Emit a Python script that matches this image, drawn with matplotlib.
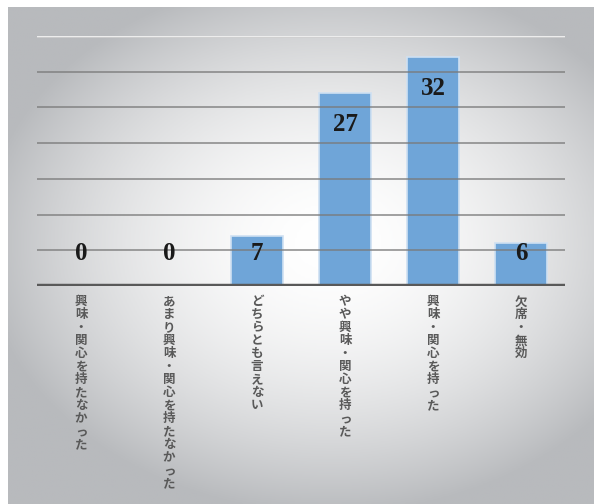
import numpy as np
import matplotlib.pyplot as plt
import matplotlib.colors as mcolors

plt.rcParams['font.family'] = ['Noto Sans CJK JP', 'DejaVu Sans']

# 回答の集計
categories = ['興味・関心を持たなかった', 'あまり興味・関心を持たなかった', 'どちらとも言えない',
              'やや興味・関心を持った', '興味・関心を持った', '欠席・無効']
counts = [0, 0, 7, 27, 32, 6]
yticks = [0, 5, 10, 15, 20, 25, 30, 35]

W, H = 594, 504
fig = plt.figure(figsize=(W / 100, H / 100), dpi=100)

# 背景：中央が白い放射グラデーション
bg = fig.add_axes([8 / W, 0, 1 - 8 / W, 1 - 7 / H])
gx, gy = np.meshgrid(np.linspace(-1, 1, 300), np.linspace(-1, 1, 260))
r = np.sqrt(((gx - 0.1) / 1.15) ** 2 + ((gy + 0.05) / 1.05) ** 2)
shade = np.clip(1.0 - 0.26 * r ** 1.8, 0.72, 1.0)
cmap = mcolors.LinearSegmentedColormap.from_list('g', ['#b8babd', '#ffffff'])
bg.imshow(shade, cmap=cmap, vmin=0.72, vmax=1.0, aspect='auto', extent=[0, 1, 0, 1])
bg.set_axis_off()

ax = fig.add_axes([37 / W, 1 - 286 / H, 528 / W, 250 / H])
ax.patch.set_alpha(0)
x = np.arange(len(categories))
ax.set_xlim(-0.5, len(categories) - 0.5)
ax.set_ylim(0, 35)

ax.bar(x, counts, width=0.6, color='#6fa5d8', edgecolor='#cfe0f2', linewidth=1.2, zorder=2)

# 目盛線（棒の上にうっすら重ねる）
for t in yticks[1:-1]:
    ax.axhline(t, color='#7a7a7a', lw=1.4, alpha=0.7, zorder=3)
ax.axhline(yticks[-1], color='#d0d0d0', lw=2.6, zorder=3)
ax.axhline(yticks[-1], color='#f4f4f4', lw=1.2, zorder=3)
ax.axhline(0, color='#595959', lw=3.2, zorder=4)

for xi, v in zip(x, counts):
    ax.text(xi, max(v - 4.4, 4.6), str(v), ha='center', va='center',
            fontsize=18, fontweight='bold', family='Liberation Serif', color='#1a1a1a', zorder=5)

for xi, c in zip(x, categories):
    ax.text(xi, -1.3, '\n'.join(c), ha='center', va='top', fontsize=9, fontweight='bold',
            color='#595959', linespacing=1.0, zorder=5)

for s in ax.spines.values():
    s.set_visible(False)
ax.set_xticks([])
ax.set_yticks([])

fig.savefig('out.png', dpi=100)
